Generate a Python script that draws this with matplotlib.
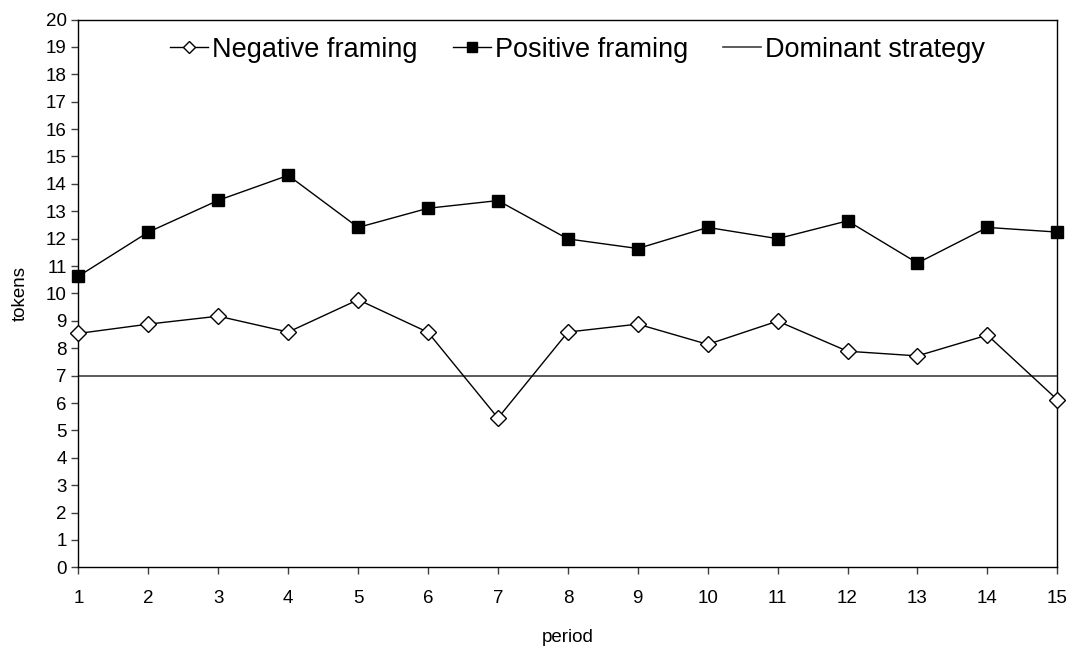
import matplotlib
matplotlib.use("Agg")
import matplotlib.pyplot as plt

plt.rcParams["font.family"] = ["Liberation Sans", "DejaVu Sans"]

# periods and mean contributions per treatment
periods = list(range(1, 16))
negative = [8.54, 8.88, 9.17, 8.59, 9.77, 8.58, 5.45, 8.59,
            8.88, 8.14, 8.99, 7.89, 7.72, 8.48, 6.12]
positive = [10.63, 12.24, 13.40, 14.31, 12.41, 13.11, 13.39, 11.99,
            11.64, 12.41, 12.00, 12.65, 11.11, 12.41, 12.24]
dominant = 7

fig = plt.figure(figsize=(10.72, 6.51), dpi=100)
ax = fig.add_axes([0.0732, 0.1285, 0.9131, 0.8415])

ax.plot(periods, negative, color="black", lw=1, marker="D", ms=8,
        mfc="white", mec="black", mew=1, label="Negative framing",
        clip_on=False, zorder=3)
ax.plot(periods, positive, color="black", lw=1, marker="s", ms=9,
        mfc="black", mec="black", label="Positive framing",
        clip_on=False, zorder=3)
ax.axhline(dominant, color="#404040", lw=1.2, label="Dominant strategy")

ax.set_xlim(1, 15)
ax.set_ylim(0, 20)
ax.set_xticks(periods)
ax.set_yticks(range(0, 21))
ax.tick_params(axis="both", direction="out", length=5, width=1,
               labelsize=13.5, color="#404040")
ax.tick_params(axis="x", pad=11)
for s in ax.spines.values():
    s.set_linewidth(1)

ax.set_xlabel("period", fontsize=13.5, labelpad=16)
ax.set_ylabel("tokens", fontsize=13.5, labelpad=12)

ax.legend(loc="center", bbox_to_anchor=(0.51, 0.945), ncol=3,
          frameon=False, fontsize=19.5, handlelength=1.4, handletextpad=0.15,
          columnspacing=1.3, markerscale=0.8)

fig.savefig("out.png", dpi=100, facecolor="white")
